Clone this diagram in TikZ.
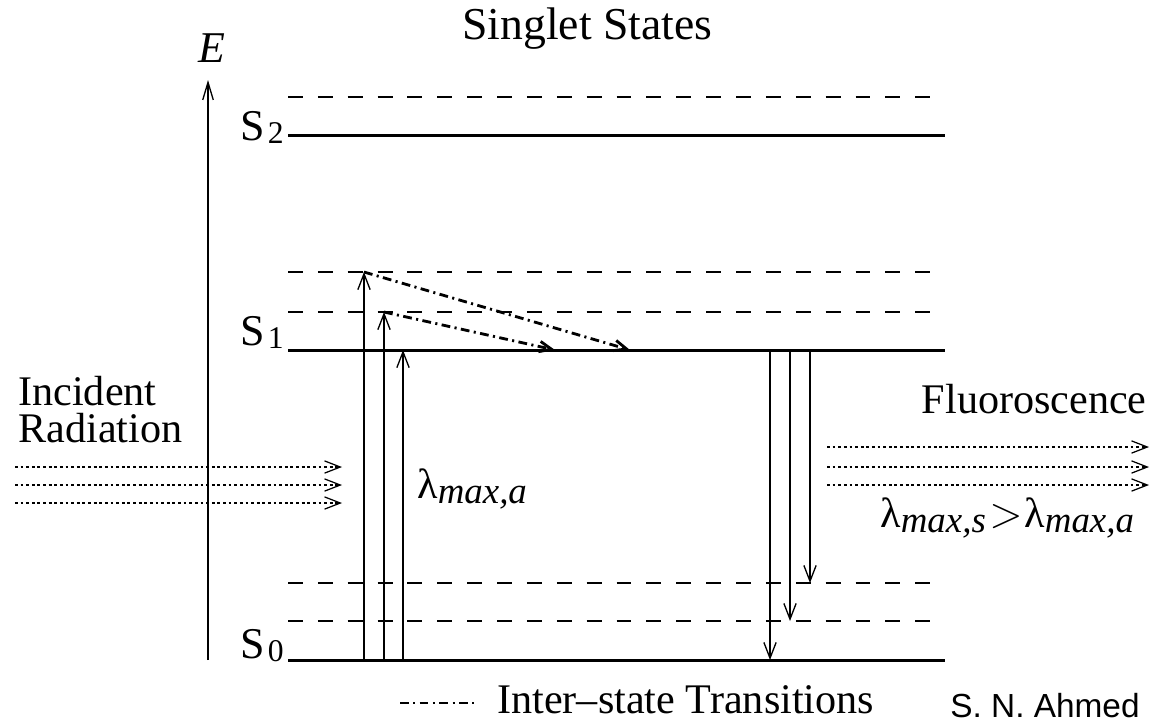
\documentclass[tikz,border=0pt]{standalone}
\usepackage{fontspec}
\setmainfont{Liberation Serif}
\newfontfamily\arialfont{Liberation Sans}
\usetikzlibrary{arrows.meta}
\begin{document}
\begin{tikzpicture}[x=0.02cm,y=-0.02cm,
  level/.style={line width=1.7pt},
  sublevel/.style={line width=0.9pt, dash pattern=on 8.5pt off 8.5pt},
  trans/.style={line width=0.75pt, -{Straight Barb[length=9pt,width=7pt]}},
  dashdot/.style={line width=1.6pt, dash pattern=on 5pt off 2.5pt on 1.2pt off 2.5pt},
  inter/.style={dashdot, -{Straight Barb[length=7pt,width=6pt]}},
  ray/.style={line width=0.6pt, dash pattern=on 1.6pt off 1.6pt, -{Straight Barb[length=9pt,width=7pt,line width=0.7pt]}},
  lbl/.style={font=\fontsize{24}{20}\selectfont, inner sep=0pt},
  slbl/.style={font=\fontsize{25}{25}\selectfont, inner sep=0pt, anchor=base east},
]
\newcommand{\lsub}[1]{\raisebox{-3pt}{\fontsize{21}{21}\selectfont\itshape #1}}
\useasboundingbox (0,0) rectangle (1151,725);

% energy axis
\coordinate (ax0) at (208,660);
\coordinate (ax1) at (208,80);
\draw[line width=0.75pt, -{Straight Barb[length=10pt,width=6pt]}] (ax0) -- (ax1);
\node[lbl, font=\fontsize{25}{25}\selectfont\itshape] (E) at (212,48) {E};
\node[lbl, font=\fontsize{26}{26}\selectfont, anchor=base west] (title) at (462,39) {Singlet States};

% levels
\foreach \n/\y in {s2d/97, s1a/272, s1b/312, s0a/583, s0b/621}{
  \coordinate (\n L) at (288,\y);
  \coordinate (\n R) at (945,\y);
  \draw[sublevel] (\n L) -- (\n R);
}
\foreach \n/\y in {s2/135, s1/350, s0/660}{
  \coordinate (\n L) at (288,\y);
  \coordinate (\n R) at (945,\y);
  \draw[level] (\n L) -- (\n R);
}
\node[slbl] (S2) at (284,140) {S\kern1.5pt\raisebox{-2pt}{\fontsize{18}{18}\selectfont 2}};
\node[slbl] (S1) at (284,345) {S\kern1.5pt\raisebox{-2pt}{\fontsize{18}{18}\selectfont 1}};
\node[slbl] (S0) at (284,658) {S\kern1.5pt\raisebox{-2pt}{\fontsize{18}{18}\selectfont 0}};

% absorption
\coordinate (a1b) at (364,660); \coordinate (a1t) at (364,272);
\coordinate (a2b) at (384,660); \coordinate (a2t) at (384,312);
\coordinate (a3b) at (403,660); \coordinate (a3t) at (403,350);
\draw[trans] (a1b) -- (a1t);
\draw[trans] (a2b) -- (a2t);
\draw[trans] (a3b) -- (a3t);

% inter-state transitions
\coordinate (i1e) at (630,350);
\coordinate (i2e) at (555,350);
\draw[inter] (a1t) -- (i1e);
\draw[inter] (a2t) -- (i2e);

% emission
\coordinate (e1t) at (770,350); \coordinate (e1b) at (770,660);
\coordinate (e2t) at (790,350); \coordinate (e2b) at (790,621);
\coordinate (e3t) at (810,350); \coordinate (e3b) at (810,583);
\draw[trans] (e1t) -- (e1b);
\draw[trans] (e2t) -- (e2b);
\draw[trans] (e3t) -- (e3b);

% incident radiation
\node[lbl, font=\fontsize{24}{21}\selectfont, anchor=base west, align=left] (inc) at (18,442) {Incident\\Radiation};
\foreach \y [count=\i] in {467,485,503}{
  \coordinate (r\i a) at (15,\y);
  \coordinate (r\i b) at (342,\y);
  \draw[ray] (r\i a) -- (r\i b);
}
\node[lbl, anchor=base west] (lama) at (417,498) {λ\lsub{max,a}};

% fluorescence
\node[lbl, anchor=base east] (flu) at (1147,413) {Fluoroscence};
\foreach \y [count=\i] in {447,467,485}{
  \coordinate (f\i a) at (827,\y);
  \coordinate (f\i b) at (1149,\y);
  \draw[ray] (f\i a) -- (f\i b);
}
\node[lbl, anchor=base west] (lams) at (880,527) {λ\lsub{max,s}\kern2pt{\fontsize{27}{27}\selectfont$>$}\kern1pt λ\lsub{max,a}};

% legend
\coordinate (lg1) at (400,703);
\coordinate (lg2) at (476,703);
\draw[dashdot] (lg1) -- (lg2);
\node[lbl, anchor=base west] (leg) at (497,713) {Inter–state Transitions};
\node[inner sep=0pt, anchor=base west, font=\arialfont\fontsize{19}{19}\selectfont] (auth) at (950,717) {S. N. Ahmed};
\end{tikzpicture}
\end{document}
